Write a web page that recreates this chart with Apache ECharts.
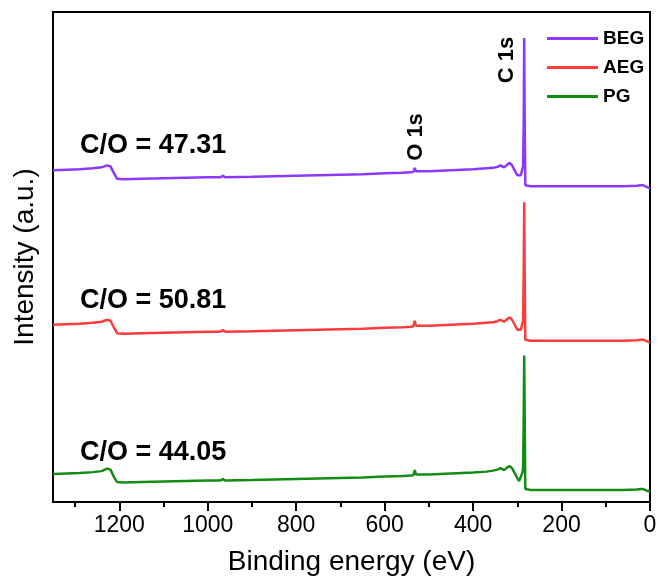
<!DOCTYPE html>
<html>
<head>
<meta charset="utf-8">
<script src="https://cdn.jsdelivr.net/npm/echarts@6/dist/echarts.min.js"></script>
<style>html,body{margin:0;padding:0;background:#fff;}#chart{width:660px;height:581px;}</style>
</head>
<body>
<div id="chart"></div>
<script>
// Binding energies (eV)
var energies = [1350, 1320, 1290, 1260, 1240, 1228, 1220, 1212, 1205, 1190,
  1150, 1100, 1050, 1000, 972, 966, 960, 900, 850, 800,
  750, 700, 650, 600, 560, 540, 535, 532, 529, 525,
  500, 450, 400, 370, 355, 345, 338, 330, 322, 317,
  312, 306, 300, 296, 292, 289, 287, 285.5, 284.5, 283.5,
  282, 279, 270, 250, 200, 150, 100, 60, 30, 20,
  15, 10, 5, 0];
// Intensities (a.u., stacked offsets as in the figure)
var begValues = [333, 333.5, 334, 335, 336, 338, 337, 330, 324.5, 324,
  324.5, 325, 325.5, 326, 326, 327.5, 326, 326.5, 327, 327.5,
  328, 328.5, 329, 330, 330.5, 331, 331.5, 335.5, 332, 331.5,
  332, 333, 334, 335, 335.5, 336.5, 338, 336, 339, 340.5,
  338, 333, 328, 326, 328, 334, 337, 384, 466, 394,
  318, 317, 317, 317, 317, 317, 317, 317, 317.5, 318,
  318, 317, 316, 315];
var aegValues = [178, 178.5, 179, 180, 181, 183, 182, 175, 169.5, 169,
  169.5, 170, 170.5, 171, 171, 172.5, 171, 171.5, 172, 172.5,
  173, 173.5, 174, 175, 175.5, 176, 176.5, 182, 177, 176.5,
  177, 178, 179, 180, 180.5, 181.5, 183, 181, 184, 185.5,
  183, 178, 173, 171, 173, 179, 182, 235, 301, 240,
  163, 162, 162, 162, 162, 162, 162, 162, 162.5, 163,
  163, 162, 161, 160];
var pgValues = [28, 28.5, 29, 30, 31, 33.5, 32.5, 25, 20, 19.5,
  20, 20.5, 21, 21.5, 21.5, 23, 21.5, 22, 22.5, 23,
  23.5, 24, 24.5, 25.5, 26, 26.5, 27, 32, 27.5, 27,
  27.5, 28.5, 29.5, 30.5, 31.5, 32.5, 34, 32, 35, 36,
  34, 29, 24, 21, 23, 29, 33, 90, 147, 95,
  13, 12, 12, 12, 12, 12, 12, 12, 12.5, 13,
  13, 12, 11, 10.5];
var seriesNames = ['BEG', 'AEG', 'PG'];
var ratioLabels = ['C/O = 47.31', 'C/O = 50.81', 'C/O = 44.05'];
var peakLabels = ['O 1s', 'C 1s'];
var xMajorTicks = [0, 200, 400, 600, 800, 1000, 1200];
var xMinorTicks = [100, 300, 500, 700, 900, 1100, 1300];

var FONT = 'Arial, "Liberation Sans", sans-serif';
var colors = ['#8C38FF', '#FF3B3B', '#128C12'];

function pairs(vals) {
  return energies.map(function (e, i) { return [e, vals[i]]; });
}

var chart = echarts.init(document.getElementById('chart'), null, {renderer: 'canvas'});
var option = {
  animation: false,
  backgroundColor: '#fff',
  grid: {left: 53, right: 10, top: 12, bottom: 77, show: true, borderColor: '#000', borderWidth: 2, backgroundColor: 'transparent'},
  legend: {
    orient: 'vertical', left: 542, top: 24, itemWidth: 51, itemHeight: 3, itemGap: 10, icon: 'rect',
    data: seriesNames,
    textStyle: {fontFamily: FONT, fontSize: 19, fontWeight: 'bold', color: '#000', lineHeight: 18}
  },
  xAxis: [{
    type: 'value', inverse: true, min: 0, max: 1350, position: 'bottom',
    axisLine: {show: true, lineStyle: {color: '#000', width: 2}},
    axisTick: {show: true, customValues: xMajorTicks, length: 9, inside: false, lineStyle: {color: '#000', width: 2}},
    axisLabel: {show: true, customValues: xMajorTicks, margin: 12, color: '#000', fontFamily: FONT, fontSize: 23,
      formatter: function (v) { return String(v); }},
    splitLine: {show: false},
    name: 'Binding energy (eV)', nameLocation: 'middle', nameGap: 46,
    nameTextStyle: {fontFamily: FONT, fontSize: 28, color: '#000'}
  }, {
    type: 'value', inverse: true, min: 0, max: 1350, position: 'bottom',
    axisLine: {show: false},
    axisTick: {show: true, customValues: xMinorTicks, length: 5, inside: false, lineStyle: {color: '#000', width: 2}},
    axisLabel: {show: false},
    splitLine: {show: false}
  }],
  yAxis: {
    type: 'value', min: 0, max: 492,
    axisLine: {show: true, lineStyle: {color: '#000', width: 2}},
    axisTick: {show: false}, axisLabel: {show: false}, splitLine: {show: false},
    name: 'Intensity (a.u.)', nameLocation: 'middle', nameGap: 14,
    nameTextStyle: {fontFamily: FONT, fontSize: 28, color: '#000'}
  },
  series: [
    {name: seriesNames[0], type: 'line', xAxisIndex: 0, data: pairs(begValues), symbol: 'none', lineStyle: {width: 2.5, color: colors[0]}, itemStyle: {color: colors[0]}},
    {name: seriesNames[1], type: 'line', xAxisIndex: 0, data: pairs(aegValues), symbol: 'none', lineStyle: {width: 2.5, color: colors[1]}, itemStyle: {color: colors[1]}},
    {name: seriesNames[2], type: 'line', xAxisIndex: 0, data: pairs(pgValues), symbol: 'none', lineStyle: {width: 2.5, color: colors[2]}, itemStyle: {color: colors[2]}}
  ],
  graphic: [
    {type: 'text', x: 80, y: 146, style: {text: ratioLabels[0], font: 'bold 27px ' + FONT, fill: '#000', verticalAlign: 'middle', align: 'left'}},
    {type: 'text', x: 80, y: 301, style: {text: ratioLabels[1], font: 'bold 27px ' + FONT, fill: '#000', verticalAlign: 'middle', align: 'left'}},
    {type: 'text', x: 80, y: 453, style: {text: ratioLabels[2], font: 'bold 27px ' + FONT, fill: '#000', verticalAlign: 'middle', align: 'left'}},
    {type: 'text', x: 416, y: 137, rotation: Math.PI / 2, style: {text: peakLabels[0], font: 'bold 22px ' + FONT, fill: '#000', verticalAlign: 'middle', align: 'center'}},
    {type: 'text', x: 507, y: 60, rotation: Math.PI / 2, style: {text: peakLabels[1], font: 'bold 22px ' + FONT, fill: '#000', verticalAlign: 'middle', align: 'center'}}
  ]
};
chart.setOption(option);
</script>
</body>
</html>
